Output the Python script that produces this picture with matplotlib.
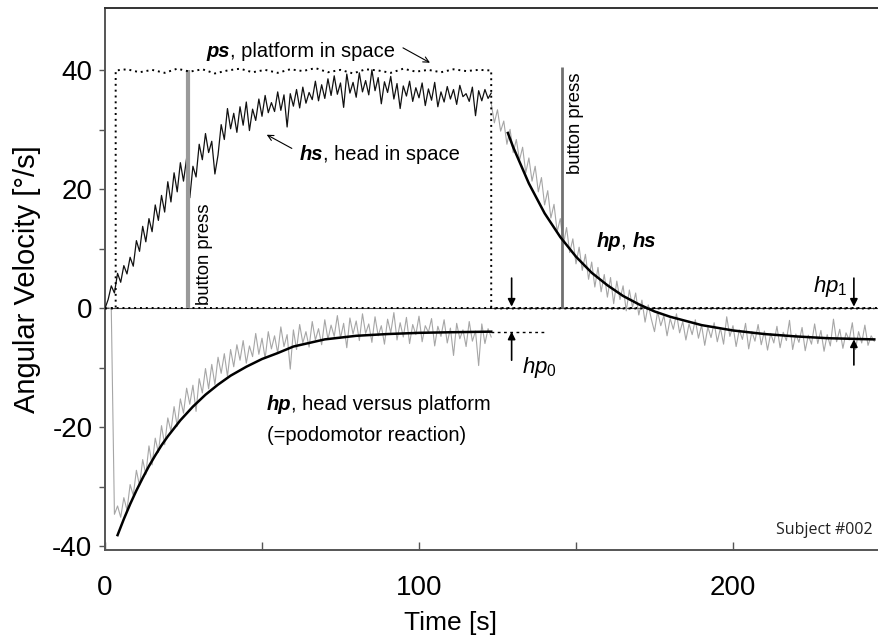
import matplotlib
matplotlib.use("Agg")
from matplotlib import pyplot
import numpy

pyplot.rcParams['font.family'] = ['Liberation Sans', 'DejaVu Sans']
pyplot.rcParams['axes.unicode_minus'] = False
pyplot.rcParams['mathtext.fontset'] = 'custom'
pyplot.rcParams['mathtext.rm'] = 'Liberation Sans'
pyplot.rcParams['mathtext.it'] = 'Liberation Sans:italic'

# head in space during rotation, 1 s steps from t = 0
hsRotation = [
    0.0, 1.5, 3.8, 2.6, 5.9, 4.4, 7.2, 5.8, 8.6, 7.1,
    11.4, 9.6, 13.8, 11.2, 15.1, 12.9, 17.4, 14.8, 19.0, 16.2,
    21.3, 17.9, 22.8, 19.6, 24.5, 21.4, 25.3, 18.6, 23.9, 22.1,
    27.6, 25.0, 29.4, 26.2, 28.1, 22.6, 25.8, 30.9, 28.4, 33.6,
    30.2, 32.8, 29.6, 33.9, 30.8, 34.7, 29.9, 33.5, 31.6, 35.2,
    32.3, 35.8, 32.9, 34.6, 33.1, 36.4, 33.3, 35.9, 30.5, 36.1,
    34.0, 36.8, 33.7, 37.2, 34.5, 36.3, 35.1, 38.2, 34.9, 37.6,
    35.3, 38.6, 35.8, 39.1, 36.0, 37.9, 33.8, 39.4, 36.2, 38.0,
    35.5, 39.6, 36.4, 38.3, 35.9, 40.1, 36.6, 38.8, 34.4, 38.1,
    36.3, 39.0, 35.2, 37.8, 33.6, 37.4, 35.7, 38.2, 34.8, 37.1,
    35.4, 37.9, 34.1, 36.9, 35.0, 38.0, 33.9, 36.4, 34.7, 37.3,
    35.2, 36.8, 34.3, 37.5, 35.6, 36.1, 34.8, 37.2, 32.4, 36.6,
    34.9, 36.8, 35.3, 36.2]

# head versus platform during rotation, 1 s steps from t = 0
hpRotation = [
    0.0, 0.2, -0.1, -34.6, -33.2, -35.1, -31.8, -33.9, -29.6, -31.4,
    -27.2, -29.8, -25.4, -27.9, -23.1, -26.3, -21.8, -24.2, -19.7, -22.9,
    -18.4, -20.6, -16.5, -19.8, -15.2, -17.6, -13.4, -16.1, -12.9, -17.3,
    -11.8, -14.2, -10.1, -13.5, -9.4, -12.8, -8.2, -10.9, -7.6, -11.4,
    -6.9, -9.8, -6.1, -8.7, -5.4, -9.2, -6.3, -8.1, -4.2, -7.7,
    -5.0, -8.4, -3.9, -6.8, -4.6, -7.5, -3.1, -6.4, -4.4, -10.2,
    -3.6, -6.9, -2.7, -5.8, -3.9, -6.5, -2.2, -5.3, -3.4, -6.1,
    -1.9, -5.2, -2.8, -4.7, -1.2, -5.0, -2.5, -6.6, -1.6, -4.3,
    -2.1, -5.4, -0.9, -4.2, -2.6, -5.7, -1.4, -4.6, -2.9, -6.0,
    -1.8, -4.1, -0.7, -5.3, -2.4, -4.8, -1.5, -5.9, -2.7, -4.4,
    -1.3, -5.6, -2.9, -4.0, -1.7, -6.3, -3.0, -4.7, -1.9, -5.8,
    -3.3, -7.9, -2.5, -5.1, -3.6, -6.4, -2.2, -5.5, -3.8, -9.6,
    -2.6, -5.9, -3.4, -4.8]

# head (= head versus platform) after platform stop, 1 s steps from t = 123
hpAfterStop = [
    34.5, 31.2, 33.4, 29.8, 31.5, 27.6, 30.1, 26.2, 28.4, 24.9,
    27.1, 22.8, 25.3, 21.4, 23.9, 19.6, 22.0, 17.4, 19.8, 15.2,
    17.5, 12.9, 15.1, 10.8, 13.6, 9.4, 11.7, 7.5, 10.3, 6.4,
    9.1, 4.9, 7.8, 3.6, 6.9, 2.8, 5.7, 1.9, 5.2, 0.8,
    4.6, 1.5, 3.8, -0.4, 3.1, 0.2, 2.6, -1.1, 1.4, -2.3,
    0.6, -1.8, -3.9, -0.5, -2.9, -1.2, -4.6, -1.7, -3.5, -0.9,
    -4.1, -2.2, -5.3, -2.6, -4.4, -1.9, -5.0, -2.8, -6.2, -3.1,
    -4.9, -2.4, -5.6, -3.3, -6.0, -1.4, -4.7, -2.9, -6.4, -3.6,
    -5.2, -2.5, -6.8, -3.9, -5.5, -2.7, -6.1, -3.8, -7.0, -4.2,
    -5.8, -3.0, -6.6, -4.0, -5.4, -2.0, -6.9, -4.3, -5.7, -3.2,
    -7.1, -4.5, -6.0, -2.6, -5.9, -3.7, -7.2, -4.4, -6.3, -1.8,
    -5.6, -3.5, -6.7, -4.1, -5.3, -2.4, -6.9, -3.9, -5.8, -2.8,
    -6.2, -4.6, -5.5]

# platform in space
psTime = [0, 3.4, 3.4, 7, 11, 15, 19, 23, 27, 31, 35, 39, 43, 47, 51, 55, 59,
          63, 67, 71, 75, 79, 83, 87, 91, 95, 99, 103, 107, 111, 115, 119,
          123, 123, 245]
psValue = [0, 0, 40.0, 40.2, 39.7, 40.1, 39.6, 40.3, 39.8, 40.2, 39.5, 40.0,
           40.3, 39.7, 40.1, 39.6, 40.2, 39.9, 40.4, 39.7, 40.1, 39.5, 40.2,
           40.0, 39.6, 40.3, 39.8, 40.1, 39.7, 40.2, 39.9, 40.1, 40.0, 0, 0]

# exponential fits
fitRotationTime = [4, 6, 8, 10, 12, 14, 16, 18, 20, 24, 28, 32, 36, 40, 45,
                   50, 55, 60, 70, 80, 90, 100, 110, 123]
fitRotationValue = [-38.1, -35.4, -32.9, -30.6, -28.5, -26.5, -24.7, -23.0,
                    -21.5, -18.8, -16.5, -14.5, -12.8, -11.3, -9.8, -8.5,
                    -7.5, -6.4, -5.2, -4.6, -4.3, -4.1, -4.0, -3.9]
fitStopTime = [128.3, 130, 135, 140, 145, 150, 155, 160, 165, 170, 175, 180,
               190, 200, 210, 220, 230, 245]
fitStopValue = [29.5, 27.1, 21.0, 16.0, 12.0, 8.7, 6.0, 3.9, 2.1, 0.7, -0.5,
                -1.4, -2.8, -3.7, -4.3, -4.7, -5.0, -5.2]
hp0Level = -3.9
hp1Level = -5.2

buttonPressTime = [26.5, 145.4]
buttonPressTop = [40.0, 40.6]

figure = pyplot.figure(figsize=(8.79, 6.42), dpi=100)
axes = figure.add_axes([105/879, 1 - 550/642, 774/879, 542/642])

tRotation = numpy.arange(len(hsRotation))
tStop = 123 + numpy.arange(len(hpAfterStop))

axes.axhline(0, color='#444444', lw=0.8, zorder=1)
axes.axhline(0, color='black', lw=1.4, ls=(0, (1, 2)), zorder=1)
axes.plot(tRotation[:len(hpRotation)], hpRotation, color='#a6a6a6', lw=0.8, zorder=2)
axes.plot(tStop, hpAfterStop, color='#a6a6a6', lw=0.8, zorder=2)
axes.plot(tRotation, hsRotation, color='#111111', lw=0.9, zorder=3)
axes.plot(psTime, psValue, color='black', lw=1.4, ls=(0, (1, 2)), zorder=4)
axes.plot(fitRotationTime, fitRotationValue, color='black', lw=1.8, zorder=5)
axes.plot([fitRotationTime[-1], 140], [hp0Level, hp0Level], color='black',
          lw=1.0, ls=(0, (2, 2.5)), zorder=5)
axes.plot(fitStopTime, fitStopValue, color='black', lw=1.8, zorder=5)

axes.vlines(buttonPressTime[0], 0, buttonPressTop[0], color='#9a9a9a', lw=3, zorder=3)
axes.vlines(buttonPressTime[1], 0, buttonPressTop[1], color='#707070', lw=2, zorder=3)
axes.text(31.8, 0.6, 'button press', rotation=90, ha='center', va='bottom', fontsize=13.3)
axes.text(149.8, 39.6, 'button press', rotation=90, ha='center', va='top', fontsize=13.3)

labelSize = 14.5

def mixedLabel(x, y, boldPart, rest, size=labelSize):
    first = axes.text(x, y, boldPart, fontsize=size, fontweight='bold',
                      fontstyle='italic', va='baseline')
    axes.annotate(rest, xy=(1, 0), xycoords=first, fontsize=size, va='bottom')
    return first

mixedLabel(32.4, 42.3, 'ps', ', platform in space')
mixedLabel(62.1, 24.9, 'hs', ', head in space')
mixedLabel(51.5, -17.1, 'hp', ', head versus platform')
axes.text(51.5, -22.3, '(=podomotor reaction)', fontsize=labelSize, va='baseline')
first = axes.text(156.6, 10.4, 'hp', fontsize=labelSize, fontweight='bold',
                  fontstyle='italic', va='baseline')
second = axes.annotate(', ', xy=(1, 0), xycoords=first, fontsize=labelSize, va='bottom')
axes.annotate('hs', xy=(1, 0), xycoords=second, fontsize=labelSize, fontweight='bold',
              fontstyle='italic', va='bottom')

thin = dict(arrowstyle='->', lw=0.8, color='black', shrinkA=0, shrinkB=0)
axes.annotate('', xy=(103.5, 41.3), xytext=(94.9, 43.8), arrowprops=thin)
axes.annotate('', xy=(51.5, 29.2), xytext=(59.5, 26.9), arrowprops=thin)

solid = dict(arrowstyle='-|>', lw=1.2, color='black', shrinkA=0, shrinkB=0,
             mutation_scale=11)
axes.annotate('', xy=(129.5, 0.3), xytext=(129.5, 5.1), arrowprops=solid)
axes.annotate('', xy=(129.5, hp0Level), xytext=(129.5, -8.7), arrowprops=solid)
axes.annotate('', xy=(238.5, 0.3), xytext=(238.5, 5.1), arrowprops=solid)
axes.annotate('', xy=(238.5, hp1Level), xytext=(238.5, -9.5), arrowprops=solid)
axes.text(132.7, -10.8, r'$hp_0$', fontsize=16, va='baseline')
axes.text(236.6, 2.8, r'$hp_1$', fontsize=16, ha='right', va='baseline')

axes.text(244.6, -37.3, 'Subject #002', fontsize=11.5, family='Open Sans',
          ha='right', va='center', color='#222222')

axes.set_xlim(0, 246.5)
axes.set_ylim(-40.6, 50.5)
axes.set_xticks([0, 100, 200])
axes.set_xticks([50, 150], minor=True)
axes.set_yticks([-40, -20, 0, 20, 40])
axes.set_yticks([-30, -10, 10, 30], minor=True)
axes.tick_params(axis='x', which='both', direction='in', length=6, width=1,
                 color='#555555', labelsize=20, pad=18)
axes.tick_params(axis='y', which='both', direction='out', length=4, width=1,
                 color='#555555', labelsize=20, pad=5)
axes.set_xlabel('Time [s]', fontsize=19)
axes.set_ylabel('Angular Velocity [°/s]', fontsize=21)
axes.xaxis.set_label_coords(0.446, -0.113)
axes.yaxis.set_label_coords(-0.083, 0.5)

axes.spines['right'].set_visible(False)
axes.spines['left'].set_color('#555555')
axes.spines['bottom'].set_color('#555555')
axes.spines['top'].set_color('#333333')
for side in ('left', 'bottom', 'top'):
    axes.spines[side].set_linewidth(1.4)

figure.savefig('out.png', dpi=100)
